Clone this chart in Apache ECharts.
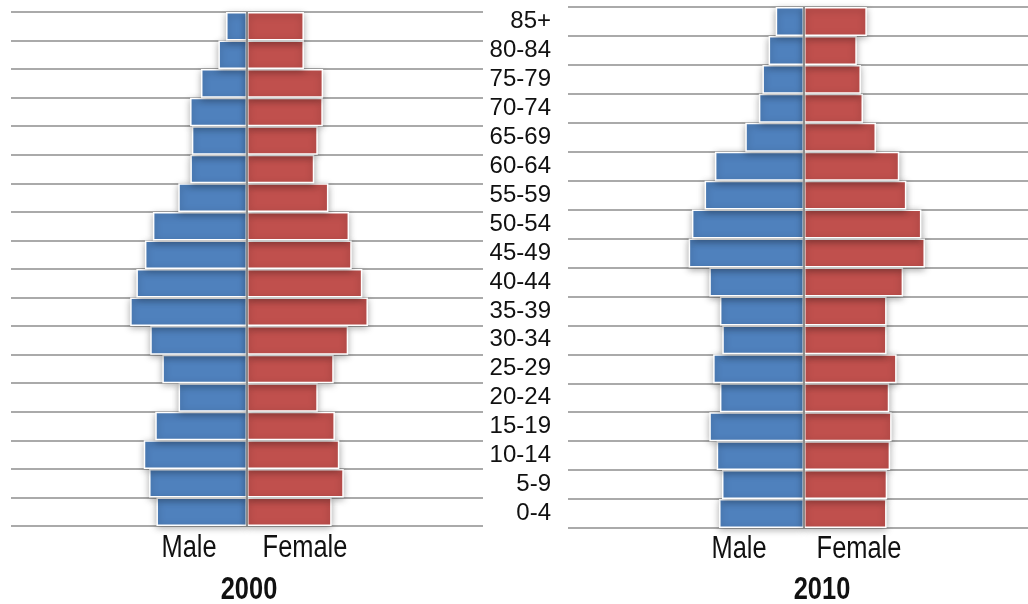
<!DOCTYPE html>
<html>
<head>
<meta charset="utf-8">
<title>Population pyramids 2000 and 2010</title>
<script src="https://cdn.jsdelivr.net/npm/echarts@6/dist/echarts.min.js"></script>
<style>
  html, body { margin: 0; padding: 0; background: #fff; overflow: hidden; }
  /* the 2010 panel's grid runs slightly past the right edge of the page */
  #chart { width: 1040px; height: 604px; }
</style>
</head>
<body>
<div id="chart"></div>
<script>
// Age groups, youngest at the bottom
const ageGroups = ['0-4', '5-9', '10-14', '15-19', '20-24', '25-29', '30-34', '35-39', '40-44',
  '45-49', '50-54', '55-59', '60-64', '65-69', '70-74', '75-79', '80-84', '85+'];

// Share of total population (%) per age group
const male2000   = [3.07, 3.32, 3.50, 3.11, 2.32, 2.87, 3.28, 3.96, 3.75, 3.46, 3.19, 2.33, 1.92, 1.87, 1.93, 1.56, 0.97, 0.71];
const female2000 = [2.87, 3.28, 3.13, 2.98, 2.40, 2.94, 3.43, 4.10, 3.91, 3.55, 3.46, 2.76, 2.28, 2.40, 2.57, 2.58, 1.93, 1.93];
const male2010   = [2.88, 2.78, 2.96, 3.21, 2.85, 3.08, 2.77, 2.85, 3.21, 3.91, 3.80, 3.37, 3.02, 1.99, 1.53, 1.41, 1.20, 0.96];
const female2010 = [2.80, 2.82, 2.92, 2.97, 2.89, 3.14, 2.80, 2.80, 3.36, 4.10, 3.98, 3.47, 3.23, 2.44, 2.00, 1.93, 1.79, 2.13];

const sexLabels = ['Male', 'Female'];
const years = ['2000', '2010'];

const AXIS_MAX = 8;
const BLUE = '#4F81BD';
const RED = '#C0504D';
const GRID_GRAY = '#8e8e8e';
const SANS = '"Liberation Sans", Arial, Helvetica, sans-serif';
const NARROW_SCALE = 0.82;   // squeeze captions into a condensed look

const chart = echarts.init(document.getElementById('chart'), null, { renderer: 'canvas' });

function barSeries(name, values, sign, idx, color, withCenterLine) {
  const s = {
    name: name,
    type: 'bar',
    xAxisIndex: idx,
    yAxisIndex: idx,
    data: values.map(v => sign * v),
    barGap: '-100%',
    barCategoryGap: 0,
    itemStyle: {
      color: color,
      borderColor: '#ffffff',
      borderWidth: 1.5,
      shadowColor: 'rgba(0,0,0,0.35)',
      shadowBlur: 7,
      shadowOffsetX: 0,
      shadowOffsetY: 2
    },
    emphasis: { disabled: true },
    silent: true
  };
  if (withCenterLine) {
    s.markLine = {
      silent: true,
      symbol: ['none', 'none'],
      label: { show: false },
      lineStyle: { color: '#8a8a8a', width: 2, type: 'solid' },
      data: [{ xAxis: 0 }],
      z: 10,
      animation: false
    };
  }
  return s;
}

function catAxis(idx, showLabels) {
  return {
    type: 'category',
    gridIndex: idx,
    data: ageGroups,
    boundaryGap: true,
    axisLine: { show: false },
    axisTick: { show: false },
    axisLabel: {
      show: showLabels,
      interval: 0,
      margin: 17,
      color: '#111',
      fontFamily: SANS,
      fontSize: 24
    },
    splitLine: {
      show: true,
      interval: 0,
      lineStyle: { color: GRID_GRAY, width: 1.6 }
    }
  };
}

function valAxis(idx) {
  return {
    type: 'value',
    gridIndex: idx,
    min: -AXIS_MAX,
    max: AXIS_MAX,
    show: false,
    splitLine: { show: false }
  };
}

function caption(text, x, y, bold) {
  return {
    type: 'text',
    x: x,
    y: y,
    scaleX: NARROW_SCALE,
    silent: true,
    style: {
      text: text,
      fill: '#111',
      font: (bold ? 'bold ' : '') + '31px ' + SANS,
      textAlign: 'center',
      textVerticalAlign: 'middle'
    }
  };
}

chart.setOption({
  animation: false,
  backgroundColor: '#ffffff',
  grid: [
    { left: 11, top: 12, width: 472, height: 514, containLabel: false },
    { left: 568, top: 7, width: 472, height: 521, containLabel: false }
  ],
  xAxis: [valAxis(0), valAxis(1)],
  yAxis: [catAxis(0, false), catAxis(1, true)],
  series: [
    barSeries(sexLabels[0] + ' ' + years[0], male2000, -1, 0, BLUE, true),
    barSeries(sexLabels[1] + ' ' + years[0], female2000, 1, 0, RED, false),
    barSeries(sexLabels[0] + ' ' + years[1], male2010, -1, 1, BLUE, true),
    barSeries(sexLabels[1] + ' ' + years[1], female2010, 1, 1, RED, false)
  ],
  graphic: [
    caption(sexLabels[0], 189, 548, false),
    caption(sexLabels[1], 305, 548, false),
    caption(years[0], 249, 590, true),
    caption(sexLabels[0], 739, 549, false),
    caption(sexLabels[1], 859, 549, false),
    caption(years[1], 822, 590, true)
  ]
});
</script>
</body>
</html>
